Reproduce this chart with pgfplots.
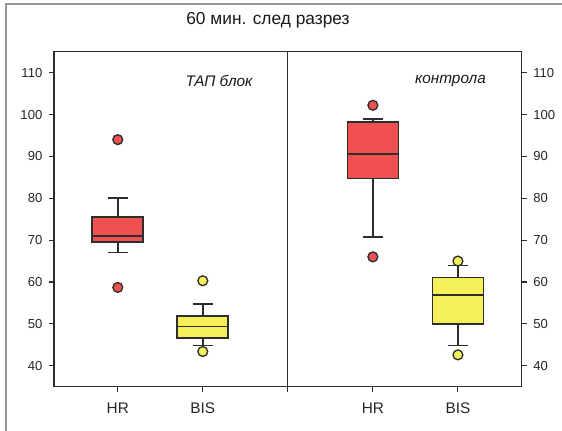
\documentclass[border=0pt]{standalone}
\usepackage{fontspec}
\setmainfont{Liberation Sans}
\usepackage{pgfplots}
\usepgfplotslibrary{statistics}
\pgfplotsset{compat=1.18}
\definecolor{boxred}{RGB}{240,80,80}
\definecolor{boxyel}{RGB}{245,240,90}
\definecolor{edge}{RGB}{45,45,45}
\definecolor{framegray}{RGB}{150,150,150}
\pgfplotsset{
  common/.style={
    at={(40.5pt,33.225pt)}, anchor=south west,
    scale only axis, width=350.775pt, height=251.25pt,
    xmin=0.25, xmax=5.75, ymin=35, ymax=115,
    ytick={40,50,...,110},
    tick align=outside, major tick length=3.75pt,
    axis line style={edge, line width=0.9pt},
    tick style={edge, line width=0.8pt},
    yticklabel style={font=\fontsize{9.8}{11}\selectfont, color=black!85},
    /pgf/number format/assume math mode=true,
  }
}
\begin{document}
\begin{tikzpicture}
\useasboundingbox (0,0) rectangle (421.5pt,323.25pt);
\draw[framegray, line width=1.5pt] (4.5pt,-2pt) -- (4.5pt,320.25pt) -- (425pt,320.25pt);
\node[anchor=base, font=\fontsize{13}{15}\selectfont, text=black!90] at (201pt,304.5pt) {60 мин. след разрез};
\node[anchor=base, font=\fontsize{11.5}{13}\selectfont\itshape, text=black!90] at (164.25pt,258.5pt) {ТАП блок};
\node[anchor=base, font=\fontsize{11.5}{13}\selectfont\itshape, text=black!90] at (337.9pt,260.25pt) {контрола};
\begin{axis}[common,
  xtick={1,2,3,4,5}, xticklabels={HR,BIS,,HR,BIS},
  xtick pos=bottom, ytick pos=left,
  xticklabel style={font=\fontsize{11.5}{13}\selectfont, color=black!85, yshift=-5pt},
  yticklabel style={xshift=-1.5pt},
  boxplot/draw direction=y,
  boxplot/every box/.style={draw=edge, line width=1.3pt},
  boxplot/every whisker/.style={draw=edge, line width=1.2pt},
  boxplot/every median/.style={draw=edge, line width=1.3pt},
]
\addplot[boxplot prepared={draw position=1, lower whisker=67, lower quartile=69.6, median=71.05, upper quartile=75.5, upper whisker=80, box extend=0.6, whisker extend=0.24}, draw=edge, fill=boxred] coordinates {};
\addplot[boxplot prepared={draw position=2, lower whisker=44.8, lower quartile=46.6, median=49.4, upper quartile=51.9, upper whisker=54.8, box extend=0.6, whisker extend=0.24}, draw=edge, fill=boxyel] coordinates {};
\addplot[boxplot prepared={draw position=4, lower whisker=70.8, lower quartile=84.7, median=90.5, upper quartile=98.2, upper whisker=98.9, box extend=0.6, whisker extend=0.24}, draw=edge, fill=boxred] coordinates {};
\addplot[boxplot prepared={draw position=5, lower whisker=44.8, lower quartile=49.9, median=56.9, upper quartile=61.1, upper whisker=63.9, box extend=0.6, whisker extend=0.24}, draw=edge, fill=boxyel] coordinates {};
\addplot[only marks, mark=*, mark size=3.7pt, mark options={draw=edge, fill=boxred, line width=1pt}] coordinates {(1,94) (1,58.7) (4,102.2) (4,66)};
\addplot[only marks, mark=*, mark size=3.7pt, mark options={draw=edge, fill=boxyel, line width=1pt}] coordinates {(2,60.3) (2,43.4) (5,65) (5,42.6)};
\draw[edge, line width=0.9pt] (axis cs:3,35) -- (axis cs:3,115);
\end{axis}
\begin{axis}[common,
  axis x line=none, axis y line*=right,
  yticklabel style={xshift=1.5pt},
]
\end{axis}
\end{tikzpicture}
\end{document}
